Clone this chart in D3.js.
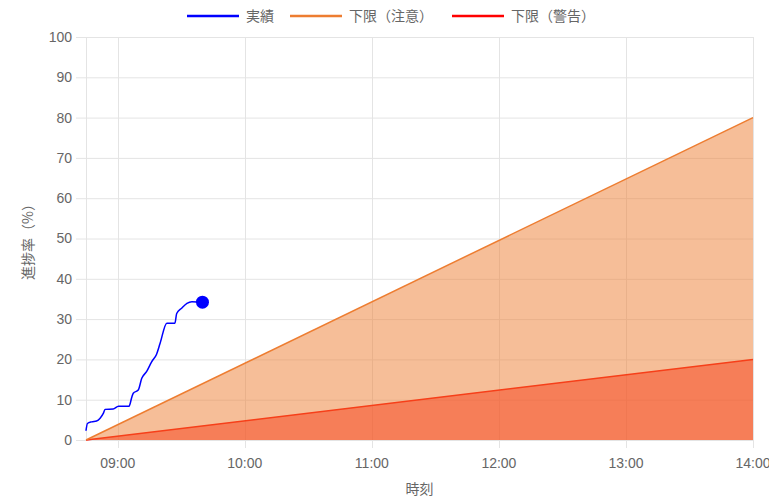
<!DOCTYPE html>
<html>
<head>
<meta charset="utf-8">
<title>進捗率</title>
<script src="https://cdn.jsdelivr.net/npm/d3@7"></script>
<style>
  body { margin: 0; background: #fff; }
  svg { display: block; font-family: "Liberation Sans", Arial, "Noto Sans CJK JP", sans-serif; }
  .jp { font-family: "Noto Sans CJK JP", sans-serif; }
</style>
</head>
<body>
<svg id="chart" width="769" height="499"></svg>
<script>
// 実績 (actual progress)
const actualTimes = ["08:45:00","08:45:40","08:47:40","08:50:00","08:51:40","08:53:10","08:54:00","08:57:50",
  "09:00:20","09:05:20","09:06:40","09:07:20","09:09:40","09:11:20","09:13:40","09:16:00","09:18:20",
  "09:20:00","09:23:10","09:27:00","09:27:50","09:30:10","09:32:40","09:35:00","09:40:00"];
const actualValues = [2.3,4.1,4.5,4.7,5.4,6.6,7.6,7.7,8.4,8.4,10.7,11.6,12.4,15.3,17.0,19.4,21.3,
  24.0,29.0,29.0,31.4,32.7,33.9,34.3,34.2];

// 下限 lines
const limitTimes = ["08:45:00","14:00:00"];
const cautionValues = [0, 80];
const warningValues = [0, 20];

const yTicks = [0,10,20,30,40,50,60,70,80,90,100];
const xTickLabels = ["09:00","10:00","11:00","12:00","13:00","14:00"];
const legendLabels = ["実績","下限（注意）","下限（警告）"];
const legendColors = ["#0000ff","#ed7d31","#ff0000"];

const parse = d3.timeParse("%H:%M:%S");
const W = 769, H = 499;
const m = {top: 37, right: 16, bottom: 59, left: 86};

const svg = d3.select("#chart");
const x = d3.scaleTime()
  .domain([parse("08:45:00"), parse("14:00:00")])
  .range([m.left, W - m.right]);
const y = d3.scaleLinear().domain([0, 100]).range([H - m.bottom, m.top]);

// grid
const grid = svg.append("g");
grid.selectAll(".hg").data(yTicks).enter().append("line")
  .attr("x1", m.left - 10).attr("x2", W - m.right)
  .attr("y1", d => y(d) + 0.5).attr("y2", d => y(d) + 0.5)
  .attr("stroke", "#e4e4e4");
const xTickDates = xTickLabels.map(s => parse(s + ":00"));
grid.selectAll(".vg").data(xTickDates).enter().append("line")
  .attr("x1", d => Math.round(x(d)) + 0.5).attr("x2", d => Math.round(x(d)) + 0.5)
  .attr("y1", m.top).attr("y2", H - m.bottom + 8)
  .attr("stroke", "#e4e4e4");
grid.append("line")
  .attr("x1", m.left + 0.5).attr("x2", m.left + 0.5)
  .attr("y1", m.top).attr("y2", H - m.bottom)
  .attr("stroke", "#e4e4e4");

// tick labels
svg.append("g").selectAll("text").data(yTicks).enter().append("text")
  .attr("x", m.left - 14).attr("y", d => y(d)).attr("dy", "0.35em")
  .attr("text-anchor", "end").attr("font-size", 14).attr("fill", "#666")
  .text(d => d);
svg.append("g").selectAll("text").data(xTickDates).enter().append("text")
  .attr("x", d => x(d)).attr("y", H - m.bottom + 28)
  .attr("text-anchor", "middle").attr("font-size", 14).attr("fill", "#666")
  .text((d, i) => xTickLabels[i]);

// axis titles
svg.append("text").attr("class", "jp")
  .attr("x", (m.left + W - m.right) / 2).attr("y", 494)
  .attr("text-anchor", "middle").attr("font-size", 14).attr("fill", "#666")
  .text("時刻");
svg.append("text").attr("class", "jp")
  .attr("transform", `translate(33,${(m.top + H - m.bottom) / 2}) rotate(-90)`)
  .attr("text-anchor", "middle").attr("font-size", 14).attr("fill", "#666")
  .text("進捗率（%）");

const limitData = vals => limitTimes.map((t, i) => ({t: parse(t), v: vals[i]}));
const area = d3.area().x(d => x(d.t)).y0(y(0)).y1(d => y(d.v));
const line = d3.line().x(d => x(d.t)).y(d => y(d.v));

// 警告 drawn first, 注意 fill over it
const warn = limitData(warningValues);
svg.append("path").attr("d", area(warn)).attr("fill", "rgba(255,0,0,0.5)");
svg.append("path").attr("d", line(warn)).attr("fill", "none").attr("stroke", "#ff0000").attr("stroke-width", 1.5);
const caut = limitData(cautionValues);
svg.append("path").attr("d", area(caut)).attr("fill", "rgba(237,125,49,0.5)");
svg.append("path").attr("d", line(caut)).attr("fill", "none").attr("stroke", "#ed7d31").attr("stroke-width", 1.5);

// 実績
const actual = actualTimes.map((t, i) => ({t: parse(t), v: actualValues[i]}));
svg.append("path")
  .attr("d", d3.line().x(d => x(d.t)).y(d => y(d.v)).curve(d3.curveMonotoneX)(actual))
  .attr("fill", "none").attr("stroke", "#0000ff").attr("stroke-width", 1.5);
const last = actual[actual.length - 1];
svg.append("circle").attr("cx", x(last.t)).attr("cy", y(last.v)).attr("r", 6.5).attr("fill", "#0000ff");

// legend
const legendX = [187, 290, 452];
const lg = svg.append("g").selectAll("g").data(legendLabels).enter().append("g")
  .attr("transform", (d, i) => `translate(${legendX[i]},16)`);
lg.append("line").attr("x1", 0).attr("x2", 52).attr("y1", 0).attr("y2", 0)
  .attr("stroke", (d, i) => legendColors[i]).attr("stroke-width", 2.5);
lg.append("text").attr("class", "jp").attr("x", 59).attr("dy", "0.35em")
  .attr("font-size", 14).attr("fill", "#666").text(d => d);
</script>
</body>
</html>
